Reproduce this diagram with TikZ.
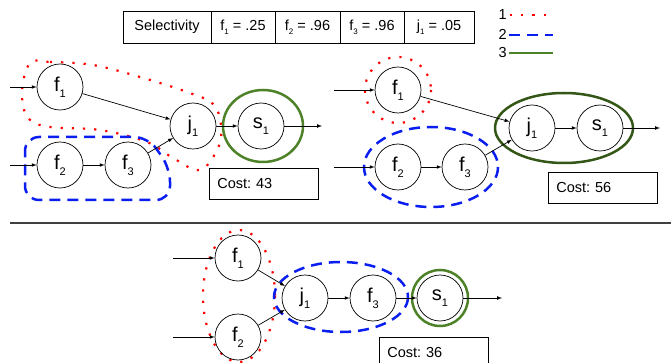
\documentclass[tikz,border=0pt]{standalone}
\usepackage{fontspec}
\setmainfont{Liberation Sans}
\usepackage{tikz}
\usetikzlibrary{arrows}
\newcommand{\ix}[1]{\raisebox{-0.3em}{\scalebox{0.55}{#1}}}
\definecolor{dotred}{RGB}{255,0,0}
\definecolor{dashblue}{RGB}{10,30,240}
\definecolor{planggreen}{RGB}{78,130,40}
\definecolor{darkgreen}{RGB}{52,86,22}
\frenchspacing

\begin{document}
\begin{tikzpicture}[x=1pt,y=-1pt,
  op/.style={draw,circle,line width=0.7pt,minimum size=46pt,inner sep=0pt,font=\fontsize{20}{24}\selectfont},
  flow/.style={-latex,line width=0.7pt},
  grp1/.style={draw=dotred,line width=2.2pt,dash pattern=on 2.2pt off 9pt},
  grp2/.style={draw=dashblue,line width=2.5pt,dash pattern=on 11pt off 7pt},
  grp3/.style={draw=planggreen,line width=2.5pt},
  cell/.style={draw,line width=0.7pt,minimum height=32pt,inner sep=0pt,font=\fontsize{14.5}{17}\selectfont},
  costbox/.style={draw,line width=0.7pt,minimum height=31pt,text width=93pt,inner sep=8pt,align=left,anchor=north west,font=\fontsize{14.5}{17}\selectfont},
  legtext/.style={anchor=east,inner sep=0pt,font=\fontsize{14.5}{17}\selectfont}]
\useasboundingbox (0,0) rectangle (671,363);

% selectivity table
\node [cell,minimum width=88pt] (sel) at (167,27) {Selectivity};
\node [cell,minimum width=64pt] (selfa) at (243,27) {f\ix{1} = .25};
\node [cell,minimum width=65pt] (selfb) at (307.5,27) {f\ix{2} = .96};
\node [cell,minimum width=64pt] (selfc) at (372,27) {f\ix{3} = .96};
\node [cell,minimum width=70pt] (selj) at (439,27) {j\ix{1} = .05};

% legend
\node [legtext] (leg1) at (507,15) {1};
\node [legtext] (leg2) at (507,34) {2};
\node [legtext] (leg3) at (507,53) {3};
\draw [grp1] ([xshift=3pt]leg1.east) -- ++(44,0);
\draw [grp2] ([xshift=2pt]leg2.east |- 0,35) -- ++(44,0);
\draw [grp3] ([xshift=2pt]leg3.east) -- ++(44,0);

% plan A
\draw [grp1] plot [smooth cycle,tension=0.6] coordinates {(30,63) (50,62) (93,65) (140,77) (187,92) (213,104) (221,125) (218,148) (200,170) (173,158) (147,142) (100,130) (50,127) (28,118) (22,92)};
\draw [grp2,rounded corners=14pt] (25,170) -- (25,137) -- (148,137) -- (170,168) -- (170,200) -- (25,200) -- cycle;
\draw [grp3] (263,126) ellipse [x radius=40, y radius=36];
\node [op] (af1) at (60,87) {f\ix{1}};
\node [op] (af2) at (60,165) {f\ix{2}};
\node [op] (af3) at (128,165) {f\ix{3}};
\node [op] (aj1) at (193,126) {j\ix{1}};
\node [op] (as1) at (261,126) {s\ix{1}};
\coordinate (ainf) at (10,87);
\coordinate (aing) at (10,165);
\coordinate (aout) at (322,126);
\draw [flow] (ainf) -- (af1);
\draw [flow] (aing) -- (af2);
\draw [flow] (af1) -- (aj1);
\draw [flow] (af2) -- (af3);
\draw [flow] (af3) -- (aj1);
\draw [flow] (aj1) -- (as1);
\draw [flow] (as1) -- (aout);
\node [costbox] (acost) at (209,168) {Cost: 43};

% plan B
\draw [grp1] (398,90) circle (33);
\draw [grp2] (431,167) ellipse [x radius=67, y radius=40];
\draw [grp3,draw=darkgreen] (564,128) ellipse [x radius=69, y radius=35];
\node [op] (bf1) at (398,90) {f\ix{1}};
\node [op] (bf2) at (398,167) {f\ix{2}};
\node [op] (bf3) at (465,167) {f\ix{3}};
\node [op] (bj1) at (532,128) {j\ix{1}};
\node [op] (bs1) at (600,128) {s\ix{1}};
\coordinate (binf) at (334,90);
\coordinate (bing) at (334,167);
\coordinate (bout) at (660,128);
\draw [flow] (binf) -- (bf1);
\draw [flow] (bing) -- (bf2);
\draw [flow] (bf1) -- (bj1);
\draw [flow] (bf2) -- (bf3);
\draw [flow] (bf3) -- (bj1);
\draw [flow] (bj1) -- (bs1);
\draw [flow] (bs1) -- (bout);
\node [costbox] (bcost) at (548,172) {Cost: 56};

\draw [line width=1.6pt,color=black!75] (10,223) -- (671,223);

% plan C
\draw [grp1] (239,296) ellipse [x radius=36, y radius=66];
\draw [grp2] (341,297) ellipse [x radius=67, y radius=35];
\draw [grp3] (440,298) circle (28);
\node [op] (cf1) at (238,258) {f\ix{1}};
\node [op] (cf2) at (238,337) {f\ix{2}};
\node [op] (cj1) at (305,298) {j\ix{1}};
\node [op] (cf3) at (373,298) {f\ix{3}};
\node [op] (cs1) at (440,298) {s\ix{1}};
\coordinate (cinf) at (173,258);
\coordinate (cing) at (173,337);
\coordinate (cout) at (502,298);
\draw [flow] (cinf) -- (cf1);
\draw [flow] (cing) -- (cf2);
\draw [flow] (cf1) -- (cj1);
\draw [flow] (cf2) -- (cj1);
\draw [flow] (cj1) -- (cf3);
\draw [flow] (cf3) -- (cs1);
\draw [flow] (cs1) -- (cout);
\node [costbox] (ccost) at (379,337) {Cost: 36};

\end{tikzpicture}
\end{document}
